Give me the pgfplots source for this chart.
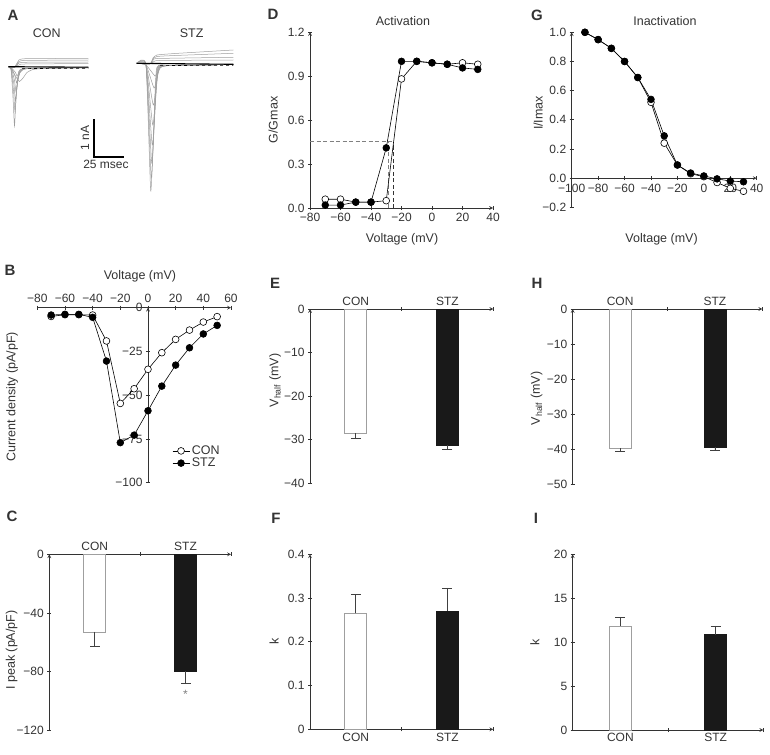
\documentclass[border=0pt]{standalone}
\usepackage{fontspec}
\setmainfont{Liberation Sans}
\usepackage{pgfplots}
\pgfplotsset{compat=1.18}
\definecolor{axc}{gray}{0.2}
\definecolor{trc}{gray}{0.62}
\newcommand{\lfont}{\fontsize{12.5}{14}\selectfont}
\pgfplotsset{
  myax/.style={scale only axis, enlargelimits=false, clip=false,
    axis line style={axc, line width=0.7pt, -},
    tick style={axc, line width=0.7pt}, major tick length=4pt, tick align=outside,
    tick label style={font=\fontsize{12}{14}\selectfont, text=axc},
    label style={font=\lfont, text=axc},
    title style={font=\lfont, text=axc},
    hide obscured x ticks=false, hide obscured y ticks=false},
  barax/.style={myax, axis y line=left, xmin=0, xmax=2,
    xtick={1,2}, xticklabels={,},
    extra x ticks={0.5,1.5}, extra x tick labels={CON,STZ},
    extra x tick style={major tick length=0pt}},
  conbar/.style={ybar, bar width=22pt, bar shift=0pt, draw=gray!75, fill=white, line width=0.8pt},
  stzbar/.style={ybar, bar width=22pt, bar shift=0pt, draw=black!90, fill=black!90, line width=0.8pt},
  ebar/.style={error bars/.cd, y dir=#1, y explicit,
    error bar style={black!75, line width=0.7pt},
    error mark options={rotate=90, mark size=5pt, black!75, line width=0.7pt}},
  con/.style={black, line width=0.6pt, mark=*, mark size=3.4pt, mark options={fill=white, draw=black, line width=0.6pt}},
  stz/.style={black, line width=0.6pt, mark=*, mark size=3.4pt, mark options={fill=black, draw=black}},
  tr/.style={trc, line width=0.5pt, smooth, tension=0.3, no markers},
}
\begin{document}
\begin{tikzpicture}[x=1pt,y=1pt]
\useasboundingbox (0,0) rectangle (770,-754);
% ---------- panel letters ----------
\begin{scope}[every node/.style={font=\fontsize{15}{17}\bfseries\selectfont, text=axc, anchor=center}]
\node at (13,-15) {A};
\node at (10,-270) {B};
\node at (12,-516) {C};
\node at (273,-14) {D};
\node at (275,-283) {E};
\node at (276,-518) {F};
\node at (537,-15) {G};
\node at (537,-283) {H};
\node at (536,-518) {I};
\end{scope}

% ---------- A: traces ----------
\begin{axis}[at={(0pt,-230pt)}, anchor=south west, scale only axis, width=260pt, height=230pt,
  xmin=0, xmax=260, ymin=-230, ymax=0, hide axis, clip=false]
% CON
\addplot[tr] coordinates {(8.3,-66.7) (11,-69) (13,-97.5) (14.5,-126) (16,-99) (18.5,-72) (22.5,-69) (40,-68) (88.3,-67.8)};
\addplot[tr] coordinates {(8.3,-66.7) (11,-69) (13.5,-90.5) (15,-112) (16.5,-92) (19,-72) (23,-69) (40,-68) (88.3,-67.6)};
\addplot[tr] coordinates {(8.3,-66.7) (11,-69) (14,-85) (15.5,-101) (17,-86.5) (19.5,-72) (23.5,-69) (40,-68) (88.3,-67.5)};
\addplot[tr] coordinates {(8.3,-66.7) (11.5,-69) (14.5,-80.5) (16,-92) (17.5,-82) (20,-72) (24,-69) (40,-68) (88.3,-67.4)};
\addplot[tr] coordinates {(8.3,-66.7) (12,-69) (15,-76) (16.5,-83) (18,-77.5) (20.5,-72) (24.5,-69) (40,-68) (88.3,-67.3)};
\addplot[tr] coordinates {(8.3,-66.7) (12,-68.5) (15.5,-72.5) (17,-76) (19,-73) (22,-70) (26,-68.5) (88.3,-67.2)};
\addplot[tr] coordinates {(8.3,-66.7) (12,-70) (16,-77) (19.5,-81.5) (23,-78) (27,-72.5) (33,-69.5) (45,-68.5) (88.3,-67.8)};
\addplot[tr] coordinates {(8.3,-66.7) (14,-67.5) (16.5,-64) (19,-60) (23,-58.8) (40,-58.6) (88.3,-58.3)};
\addplot[tr] coordinates {(8.3,-66.7) (14,-67.5) (16.5,-65) (19,-61.5) (23,-60.5) (40,-60.3) (88.3,-60)};
\addplot[tr] coordinates {(8.3,-66.7) (14,-67.5) (16.5,-65.5) (19,-63) (23,-62.3) (40,-62.2) (88.3,-62)};
\addplot[tr] coordinates {(8.3,-66.7) (14,-67.5) (17,-66) (20,-64.5) (25,-64) (88.3,-63.5)};
\addplot[black, line width=1.1pt] coordinates {(8.3,-66.7) (88.3,-67.2)};
\addplot[black, line width=0.6pt, dashed] coordinates {(22,-68.6) (88.3,-68.2)};
% STZ
\addplot[tr] coordinates {(136.7,-63.3) (146,-65) (150.7,-190.7) (153.7,-129.4) (156.7,-68) (170,-65.5) (233.3,-64.5)};
\addplot[tr] coordinates {(136.7,-63.3) (146,-65) (151.2,-178) (154.2,-123) (157.2,-68) (170,-65.5) (233.3,-64.5)};
\addplot[tr] coordinates {(136.7,-63.3) (146,-65) (151.7,-163) (154.7,-115.5) (157.7,-68) (170,-65.5) (233.3,-64.5)};
\addplot[tr] coordinates {(136.7,-63.3) (146,-65) (152.2,-145) (155.2,-106.5) (158.2,-68) (170,-65.5) (233.3,-64.5)};
\addplot[tr] coordinates {(136.7,-63.3) (146,-65) (152.7,-125) (155.7,-96.5) (158.7,-68) (170,-65.5) (233.3,-64.5)};
\addplot[tr] coordinates {(136.7,-63.3) (146,-65) (153.2,-105) (156.2,-86.5) (159.2,-68) (170,-65.5) (233.3,-64.5)};
\addplot[tr] coordinates {(136.7,-63.3) (146,-65) (154,-88) (157,-78) (160,-68) (170,-65.5) (233.3,-64.5)};
\addplot[tr] coordinates {(136.7,-63.3) (146,-65) (155,-76) (158,-72) (161,-67) (170,-65.5) (233.3,-64.5)};
\addplot[tr] coordinates {(136.7,-63.3) (150,-64) (153,-58) (157,-55) (175,-53.5) (233.3,-50)};
\addplot[tr] coordinates {(136.7,-63.3) (150,-64) (153,-59) (157,-56.5) (175,-55.5) (233.3,-53.3)};
\addplot[tr] coordinates {(136.7,-63.3) (150,-64) (153,-60.5) (158,-58.5) (233.3,-57.3)};
\addplot[tr] coordinates {(136.7,-63.3) (150,-64) (154,-61.5) (160,-60.5) (233.3,-60)};
\addplot[black, line width=1.1pt] coordinates {(136.7,-63.3) (233.3,-64.3)};
\addplot[black, line width=0.6pt, dashed] coordinates {(160,-65.6) (233.3,-65.2)};
% scale bar
\addplot[black, line width=2pt] coordinates {(94,-119.3) (94,-156.7) (124.3,-156.7)};
\node[font=\lfont, text=axc] at (axis cs:46.7,-33.3) {CON};
\node[font=\lfont, text=axc] at (axis cs:191.7,-33.3) {STZ};
\node[font=\fontsize{12}{14}\selectfont, text=axc, rotate=90] at (axis cs:85,-138) {1 nA};
\node[font=\fontsize{12}{14}\selectfont, text=axc] at (axis cs:106,-164.3) {25 msec};
\end{axis}

% ---------- B: I-V ----------
\begin{axis}[myax, at={(37.3pt,-482.7pt)}, anchor=south west, width=193.7pt, height=175pt,
  axis x line=top, axis y line=middle,
  xmin=-80, xmax=60, ymin=-100, ymax=0,
  xtick={-80,-60,-40,-20,0,20,40,60}, xticklabels={−80,−60,−40,−20,0,20,40,60},
  ytick={-100,-75,-50,-25,0}, yticklabels={−100,−75,−50,−25,0},
  xlabel={Voltage (mV)}, ylabel={Current density (pA/pF)},
  xlabel style={at={(axis description cs:0.53,1.177)}, anchor=center, font=\lfont, text=axc},
  ylabel style={at={(axis description cs:-0.13,0.49)}, anchor=center, rotate=90, font=\lfont, text=axc},
  legend style={draw=none, fill=none, at={(axis description cs:0.68,0.235)}, anchor=north west,
    font=\lfont, text=axc, row sep=-2pt},
  legend cell align=left]
\addplot[con] coordinates {(-70,-5) (-60,-4) (-50,-4) (-40,-4.2) (-30,-19) (-20,-54.7) (-10,-46.3) (0,-35.2) (10,-25.7) (20,-18.1) (30,-12.8) (40,-8.2) (50,-5.1)};
\addlegendentry{CON}
\addplot[stz] coordinates {(-70,-4.2) (-60,-3.8) (-50,-3.8) (-40,-5.5) (-30,-30.5) (-20,-77.1) (-10,-72.8) (0,-58.9) (10,-44.8) (20,-32.8) (30,-22.9) (40,-15) (50,-10.1)};
\addlegendentry{STZ}
\end{axis}

% ---------- C: I peak ----------
\begin{axis}[barax, at={(49.3pt,-730pt)}, anchor=south west, width=181.7pt, height=175.7pt,
  axis x line=top, ymin=-120, ymax=0,
  ytick={-120,-80,-40,0}, yticklabels={−120,−80,−40,0},
  ylabel={I peak (pA/pF)},
  ylabel style={at={(axis description cs:-0.207,0.455)}, anchor=center}]
\addplot[conbar, ebar=minus] coordinates {(0.5,-53) -= (0,9.8)};
\addplot[stzbar, ebar=minus] coordinates {(1.5,-79.9) -= (0,8.4)};
\node[font=\fontsize{12}{14}\selectfont, text=gray] at (axis cs:1.5,-95.5) {*};
\end{axis}

% ---------- D: activation ----------
\begin{axis}[myax, at={(310pt,-208pt)}, anchor=south west, width=183pt, height=176pt,
  axis x line=bottom, axis y line=left,
  xmin=-80, xmax=40, ymin=0, ymax=1.2,
  xtick={-80,-60,-40,-20,0,20,40}, xticklabels={−80,−60,−40,−20,0,20,40},
  ytick={0,0.3,0.6,0.9,1.2}, yticklabels={0.0,0.3,0.6,0.9,1.2},
  xlabel={Voltage (mV)}, ylabel={G/Gmax}, title={Activation},
  xlabel style={at={(axis description cs:0.503,-0.176)}, anchor=center},
  ylabel style={at={(axis description cs:-0.202,0.5)}, anchor=center},
  title style={at={(axis description cs:0.508,1.03)}, anchor=center}]
\addplot[gray, line width=0.9pt, dash pattern=on 4pt off 2.5pt] coordinates {(-80,0.452) (-25.4,0.452)};
\addplot[gray, line width=0.9pt, dash pattern=on 4pt off 2.5pt] coordinates {(-28.6,0) (-28.6,0.452)};
\addplot[black!80, line width=0.9pt, dash pattern=on 4pt off 2.5pt] coordinates {(-25.4,0) (-25.4,0.452)};
\addplot[con] coordinates {(-70,0.06) (-60,0.06) (-50,0.04) (-40,0.04) (-30,0.05) (-20,0.88) (-10,1.0) (0,0.99) (10,0.98) (20,0.99) (30,0.98)};
\addplot[stz] coordinates {(-70,0.02) (-60,0.02) (-50,0.04) (-40,0.04) (-30,0.41) (-20,1.0) (-10,1.0) (0,0.99) (10,0.98) (20,0.955) (30,0.945)};
\end{axis}

% ---------- E: Vhalf activation ----------
\begin{axis}[barax, at={(310pt,-483.3pt)}, anchor=south west, width=183.3pt, height=174.3pt,
  axis x line=top, ymin=-40, ymax=0,
  ytick={-40,-30,-20,-10,0}, yticklabels={−40,−30,−20,−10,0},
  ylabel={V\textsubscript{half} (mV)},
  ylabel style={at={(axis description cs:-0.19,0.59)}, anchor=center}]
\addplot[conbar, ebar=minus] coordinates {(0.5,-28.5) -= (0,1.1)};
\addplot[stzbar, ebar=minus] coordinates {(1.5,-31.2) -= (0,0.9)};
\end{axis}

% ---------- F: k activation ----------
\begin{axis}[barax, at={(310pt,-729.3pt)}, anchor=south west, width=183.3pt, height=175pt,
  axis x line=bottom, ymin=0, ymax=0.4,
  ytick={0,0.1,0.2,0.3,0.4}, yticklabels={0,0.1,0.2,0.3,0.4},
  ylabel={k},
  ylabel style={at={(axis description cs:-0.196,0.5)}, anchor=center}]
\addplot[conbar, ebar=plus] coordinates {(0.5,0.265) += (0,0.044)};
\addplot[stzbar, ebar=plus] coordinates {(1.5,0.270) += (0,0.053)};
\end{axis}

% ---------- G: inactivation ----------
\begin{axis}[myax, at={(571.7pt,-207.3pt)}, anchor=south west, width=185pt, height=175pt,
  axis x line=middle, axis y line=left,
  xmin=-100, xmax=40, ymin=-0.2, ymax=1.0,
  xtick={-100,-80,-60,-40,-20,0,20,40}, xticklabels={−100,−80,−60,−40,−20,0,20,40},
  ytick={-0.2,0,0.2,0.4,0.6,0.8,1.0}, yticklabels={−0.2,0.0,0.2,0.4,0.6,0.8,1.0},
  xlabel={Voltage (mV)}, ylabel={I/Imax}, title={Inactivation},
  xlabel style={at={(axis description cs:0.486,-0.183)}, anchor=center, font=\lfont, text=axc},
  ylabel style={at={(axis description cs:-0.182,0.539)}, anchor=center, font=\lfont, text=axc},
  title style={at={(axis description cs:0.504,1.032)}, anchor=center}]
\addplot[con] coordinates {(-90,1.0) (-80,0.95) (-70,0.89) (-60,0.80) (-50,0.69) (-40,0.52) (-30,0.24) (-20,0.09) (-10,0.03) (0,0.01) (10,-0.03) (20,-0.07) (30,-0.09)};
\addplot[stz] coordinates {(-90,1.0) (-80,0.95) (-70,0.89) (-60,0.80) (-50,0.69) (-40,0.54) (-30,0.29) (-20,0.09) (-10,0.035) (0,0.015) (10,-0.005) (20,-0.02) (30,-0.025)};
\end{axis}

% ---------- H: Vhalf inactivation ----------
\begin{axis}[barax, at={(572.7pt,-484.3pt)}, anchor=south west, width=189.6pt, height=175.3pt,
  axis x line=top, ymin=-50, ymax=0,
  ytick={-50,-40,-30,-20,-10,0}, yticklabels={−50,−40,−30,−20,−10,0},
  ylabel={V\textsubscript{half} (mV)},
  ylabel style={at={(axis description cs:-0.19,0.49)}, anchor=center}]
\addplot[conbar, ebar=minus] coordinates {(0.5,-39.7) -= (0,0.8)};
\addplot[stzbar, ebar=minus] coordinates {(1.5,-39.5) -= (0,0.7)};
\end{axis}

% ---------- I: k inactivation ----------
\begin{axis}[barax, at={(572.7pt,-730pt)}, anchor=south west, width=190.6pt, height=175.7pt,
  axis x line=bottom, ymin=0, ymax=20,
  ytick={0,5,10,15,20}, yticklabels={0,5,10,15,20},
  ylabel={k},
  ylabel style={at={(axis description cs:-0.198,0.5)}, anchor=center}]
\addplot[conbar, ebar=plus] coordinates {(0.5,11.84) += (0,1.0)};
\addplot[stzbar, ebar=plus] coordinates {(1.5,10.85) += (0,1.0)};
\end{axis}
\end{tikzpicture}
\end{document}
